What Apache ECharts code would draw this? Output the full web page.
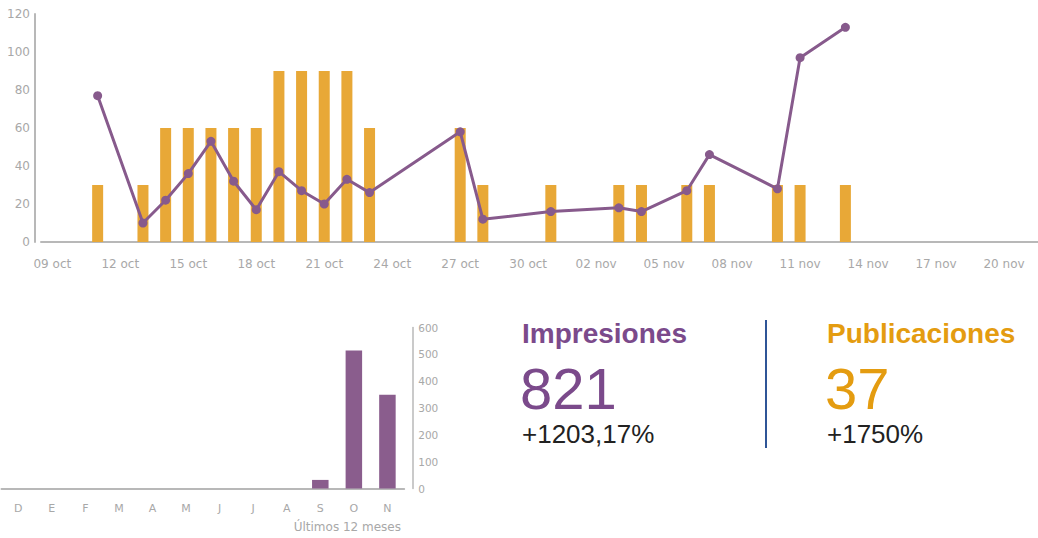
<!DOCTYPE html>
<html>
<head>
<meta charset="utf-8">
<script src="https://cdn.jsdelivr.net/npm/echarts@6/dist/echarts.min.js"></script>
<style>
  html, body { margin: 0; padding: 0; background: #ffffff; }
  #chart { width: 1038px; height: 538px; }
</style>
</head>
<body>
<div id="chart"></div>
<script>
// Daily categories, 09 oct .. 21 nov
const dias = [
  '09 oct','10 oct','11 oct','12 oct','13 oct','14 oct','15 oct','16 oct','17 oct','18 oct',
  '19 oct','20 oct','21 oct','22 oct','23 oct','24 oct','25 oct','26 oct','27 oct','28 oct',
  '29 oct','30 oct','31 oct','01 nov','02 nov','03 nov','04 nov','05 nov','06 nov','07 nov',
  '08 nov','09 nov','10 nov','11 nov','12 nov','13 nov','14 nov','15 nov','16 nov','17 nov',
  '18 nov','19 nov','20 nov','21 nov'
];

// Impressions per day (null = no activity that day)
const impresionesDia = [
  null, null, 77, null, 10, 22, 36, 53, 32, 17,
  37, 27, 20, 33, 26, null, null, null, 58, 12,
  null, null, 16, null, null, 18, 16, null, 27, 46,
  null, null, 28, 97, null, 113, null, null, null, null,
  null, null, null, null
];

// Posts published per day
const publicacionesDia = [
  null, null, 1, null, 1, 2, 2, 2, 2, 2,
  3, 3, 3, 3, 2, null, null, null, 2, 1,
  null, null, 1, null, null, 1, 1, null, 1, 1,
  null, null, 1, 1, null, 1, null, null, null, null,
  null, null, null, null
];

// Last 12 months
const meses = ['D','E','F','M','A','M','J','J','A','S','O','N'];
const impresionesMes = [0, 0, 0, 0, 0, 0, 0, 0, 0, 32, 514, 349];

const ejeDiarioTicks = { min: 0, max: 120, interval: 20 };
const ejeMensualTicks = { min: 0, max: 600, interval: 100 };

const PURPLE = '#875a8c';
const ORANGE = '#e8a837';
const AXIS_GREY = '#b8b8b8';
const LABEL_GREY = '#a8a8a8';
const AXIS_FONT = '"DejaVu Sans", sans-serif';
const KPI_FONT = '"Liberation Sans", Arial, sans-serif';

const chart = echarts.init(document.getElementById('chart'), null, { renderer: 'svg' });

chart.setOption({
  animation: false,
  backgroundColor: '#ffffff',
  grid: [
    { left: 41, top: 14, width: 44 * 22.85, height: 228 },
    { left: 1.5, top: 327.5, width: 402.7, height: 161 }
  ],
  xAxis: [
    {
      gridIndex: 0,
      type: 'category',
      data: dias,
      boundaryGap: true,
      offset: 9,
      axisLine: { lineStyle: { color: AXIS_GREY, width: 2 } },
      axisTick: { show: false },
      axisLabel: { interval: 2, color: LABEL_GREY, fontSize: 12, fontFamily: AXIS_FONT, margin: 7 },
      splitLine: { show: false }
    },
    {
      gridIndex: 1,
      type: 'category',
      data: meses,
      boundaryGap: true,
      offset: 8,
      axisLine: { lineStyle: { color: AXIS_GREY, width: 2 } },
      axisTick: { show: false },
      axisLabel: { interval: 0, color: LABEL_GREY, fontSize: 11, fontFamily: AXIS_FONT, margin: 6 },
      splitLine: { show: false }
    }
  ],
  yAxis: [
    {
      gridIndex: 0,
      type: 'value',
      min: ejeDiarioTicks.min,
      max: ejeDiarioTicks.max,
      interval: ejeDiarioTicks.interval,
      offset: 6,
      axisLine: { show: true, lineStyle: { color: AXIS_GREY, width: 2 } },
      axisTick: { show: false },
      axisLabel: { color: LABEL_GREY, fontSize: 12, fontFamily: AXIS_FONT, margin: 5 },
      splitLine: { show: false }
    },
    {
      gridIndex: 0,
      type: 'value',
      min: 0,
      max: 4,
      show: false,
      splitLine: { show: false }
    },
    {
      gridIndex: 1,
      type: 'value',
      position: 'right',
      min: ejeMensualTicks.min,
      max: ejeMensualTicks.max,
      interval: ejeMensualTicks.interval,
      offset: 9,
      axisLine: { show: true, lineStyle: { color: AXIS_GREY, width: 1.5 } },
      axisTick: { show: false },
      axisLabel: { color: LABEL_GREY, fontSize: 10.5, fontFamily: AXIS_FONT, margin: 5 },
      splitLine: { show: false }
    }
  ],
  series: [
    {
      name: 'Publicaciones',
      type: 'bar',
      xAxisIndex: 0,
      yAxisIndex: 1,
      data: publicacionesDia,
      barWidth: 11,
      itemStyle: { color: ORANGE }
    },
    {
      name: 'Impresiones',
      type: 'line',
      xAxisIndex: 0,
      yAxisIndex: 0,
      data: impresionesDia,
      connectNulls: true,
      symbol: 'circle',
      symbolSize: 9,
      lineStyle: { color: PURPLE, width: 3 },
      itemStyle: { color: PURPLE }
    },
    {
      name: 'Impresiones mensuales',
      type: 'bar',
      xAxisIndex: 1,
      yAxisIndex: 2,
      data: impresionesMes,
      barWidth: 16.5,
      itemStyle: { color: '#8a5d8d' }
    }
  ],
  graphic: [
    {
      type: 'text', x: 401, y: 527,
      style: { text: 'Últimos 12 meses', align: 'right', verticalAlign: 'middle',
               fill: LABEL_GREY, fontSize: 12, fontFamily: AXIS_FONT }
    },
    {
      type: 'text', x: 522, y: 333,
      style: { text: 'Impresiones', align: 'left', verticalAlign: 'middle',
               fill: '#7b4a8b', fontSize: 28, fontWeight: 'bold', fontFamily: KPI_FONT }
    },
    {
      type: 'text', x: 520, y: 388,
      style: { text: '821', align: 'left', verticalAlign: 'middle',
               fill: '#7b4a8b', fontSize: 58, fontFamily: KPI_FONT }
    },
    {
      type: 'text', x: 522, y: 434,
      style: { text: '+1203,17%', align: 'left', verticalAlign: 'middle',
               fill: '#222222', fontSize: 26, fontFamily: KPI_FONT }
    },
    {
      type: 'line',
      shape: { x1: 766, y1: 320, x2: 766, y2: 448 },
      style: { stroke: '#2f5597', lineWidth: 2 }
    },
    {
      type: 'text', x: 827, y: 333,
      style: { text: 'Publicaciones', align: 'left', verticalAlign: 'middle',
               fill: '#e49c10', fontSize: 28, fontWeight: 'bold', fontFamily: KPI_FONT }
    },
    {
      type: 'text', x: 825, y: 388,
      style: { text: '37', align: 'left', verticalAlign: 'middle',
               fill: '#e49c10', fontSize: 58, fontFamily: KPI_FONT }
    },
    {
      type: 'text', x: 827, y: 434,
      style: { text: '+1750%', align: 'left', verticalAlign: 'middle',
               fill: '#222222', fontSize: 26, fontFamily: KPI_FONT }
    }
  ]
});
</script>
</body>
</html>
